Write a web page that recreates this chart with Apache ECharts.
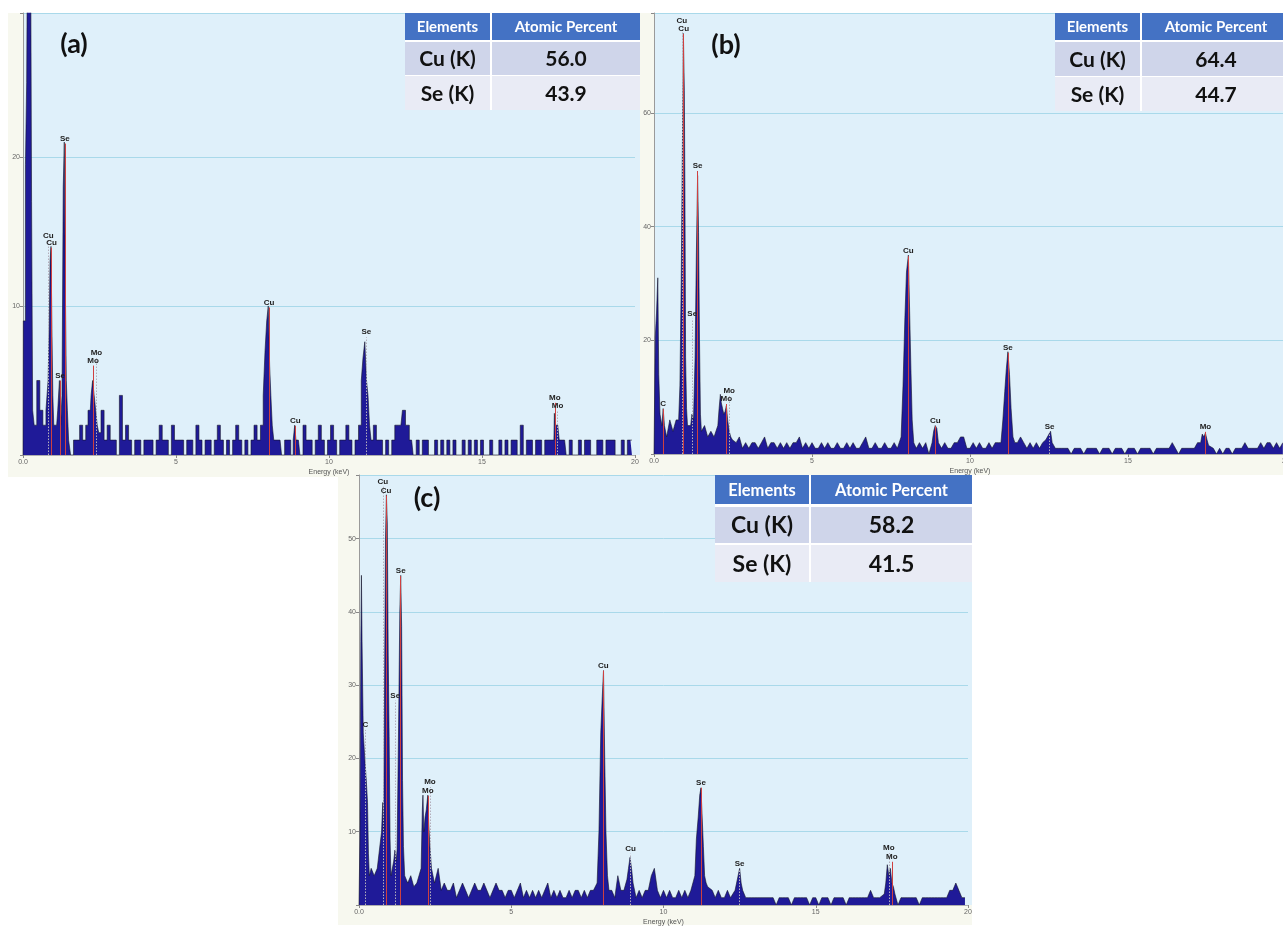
<!DOCTYPE html>
<html>
<head>
<meta charset="utf-8">
<script src="https://cdn.jsdelivr.net/npm/echarts@6/dist/echarts.min.js"></script>
<style>
html,body{margin:0;padding:0;background:#fff;}
#c{width:1283px;height:928px;}
</style>
</head>
<body>
<div id="c"></div>
<script>
// ---------- DATA ----------
const tableHeader = ['Elements', 'Atomic Percent'];
const elementNames = ['Cu (K)', 'Se (K)'];
const atomicA = ['56.0', '43.9'];
const atomicB = ['64.4', '44.7'];
const atomicC = ['58.2', '41.5'];
const panelLabels = ['(a)', '(b)', '(c)'];
const energyTicks = [0, 5, 10, 15, 20];

// background counts, one per 0.1 keV channel (0.0 ... 19.9 keV)
const bgA = [
 0,0,0,0,2,5,3,2,3,3,
 2,2,5,0,0,0,0,1,1,2,
 1,2,3,3,4,5,3,1,2,1,
 1,0,4,1,2,1,0,1,1,0,
 1,1,1,0,1,2,1,1,0,2,
 1,1,1,0,1,1,0,2,1,0,
 1,1,0,1,2,1,0,1,0,1,
 2,1,0,1,0,1,2,1,2,4,
 9,3,1,1,1,0,1,1,0,2,
 1,0,2,1,1,0,1,2,1,0,
 1,2,1,0,1,1,2,1,0,1,
 5,7,4,2,1,2,1,1,0,1,
 0,1,2,2,2,2,2,1,0,1,
 0,1,1,0,0,1,0,1,0,1,
 0,1,0,0,1,0,1,0,1,0,
 1,0,0,1,0,0,1,0,1,0,
 1,1,0,2,0,1,1,0,1,1,
 0,1,1,2,2,2,1,1,0,1,
 0,0,1,0,1,1,0,0,1,1,
 0,1,1,1,0,0,1,0,1,1
];
const bgB = [
 0,0,0,4,3,6,4,6,5,5,
 5,5,6,0,0,0,5,3,4,3,
 3,0,0,0,0,2,2,3,1,2,
 1,2,2,1,2,3,1,2,2,1,
 2,1,2,1,2,2,3,1,2,1,
 2,1,1,2,1,2,1,1,2,1,
 1,2,1,2,1,1,2,3,1,1,
 2,1,1,2,1,1,2,1,0,0,
 0,0,0,1,2,1,2,0,0,0,
 0,1,2,1,1,2,2,3,3,1,
 1,2,1,2,1,1,2,1,2,2,
 0,0,0,0,0,2,3,2,1,2,
 1,2,1,2,0,0,0,1,1,1,
 1,1,0,1,1,1,0,1,1,1,
 1,0,1,1,1,0,1,1,1,0,
 1,1,1,0,1,1,1,1,0,1,
 1,1,1,1,2,1,0,1,1,1,
 1,1,2,0,0,0,0,1,0,1,
 0,1,1,0,1,1,1,2,1,1,
 1,1,2,1,2,2,1,2,1,2
];
const bgC = [
 0,0,0,0,5,4,5,4,0,0,
 0,0,0,0,0,0,3,4,2.5,3,
 2,0,0,0,0,0,5,2,3,2,
 2,3,1,2,3,2,1,2,3,2,
 2,3,2,1,2,3,2,2,1,2,
 2,1,2,3,1,2,1,2,1,2,
 1,2,3,1,2,1,2,1,1,2,
 1,2,2,1,2,1,2,2,3,0,
 0,0,0,2,1,4,2,2,0,0,
 0,1,2,1,2,2,4,5,2,1,
 2,1,2,1,1,2,1,2,1,2,
 0,0,0,0,0,3,2,1,2,1,
 1,2,1,2,0,0,0,1,1,1,
 1,1,1,1,1,1,1,0,1,1,
 1,1,0,1,1,1,1,1,0,1,
 1,0,1,1,1,0,1,1,1,1,
 0,1,1,1,1,1,1,1,2,1,
 1,1,1,0,0,0,0,0,1,1,
 1,1,1,1,0,1,1,1,1,1,
 1,1,1,1,2,2,3,2,1,1
];

// peaks: [keV, counts]
const peaksA = [
 [[0,0],[0.02,9],[0.06,9],[0.1,19.5],[0.14,25],[0.18,40],[0.22,40],[0.26,40],[0.3,17],[0.33,3]],
 [[0.8,3],[0.84,5],[0.87,8.5],[0.9,13],[0.93,14],[0.96,8.5],[0.99,4],[1.02,2]],
 [[1.17,3],[1.21,5],[1.25,2]],
 [[1.3,4],[1.33,18],[1.37,21],[1.4,11],[1.43,5],[1.47,3],[1.51,1]],
 [[2.1,2],[2.15,3],[2.2,3],[2.25,4],[2.3,5],[2.35,4],[2.4,3],[2.45,2],[2.5,1.5]],
 [[7.82,2],[7.88,4],[7.94,7],[7.99,9],[8.04,10],[8.08,6],[8.12,4],[8.17,2],[8.22,1]],
 [[8.86,1],[8.9,2],[8.94,1]],
 [[11.03,2],[11.08,5],[11.14,6.5],[11.2,7.6],[11.25,5],[11.3,4],[11.35,2],[11.4,1]],
 [[12.35,2],[12.45,3],[12.55,2]],
 [[17.35,1],[17.38,2.8],[17.41,2],[17.45,2],[17.5,2],[17.55,1]]
];
const peaksB = [
 [[0,0],[0.04,20.6],[0.08,24.8],[0.12,31],[0.15,14],[0.19,7]],
 [[0.25,5],[0.29,8],[0.33,5]],
 [[0.78,6],[0.82,12],[0.86,30],[0.9,55],[0.93,74],[0.96,64],[0.98,45],[1.0,17],[1.03,8],[1.06,5]],
 [[1.16,5],[1.2,7],[1.25,6],[1.3,17],[1.34,35],[1.38,49],[1.41,39],[1.44,20],[1.47,7],[1.5,4]],
 [[2.02,5],[2.06,8],[2.1,10.5],[2.13,9],[2.17,8],[2.21,7],[2.25,7.5],[2.29,8.5],[2.33,6],[2.38,4],[2.43,3],[2.48,2.5]],
 [[7.82,3],[7.88,12],[7.94,24],[7.99,32],[8.05,35],[8.09,25],[8.13,15],[8.17,6],[8.22,2]],
 [[8.8,2],[8.85,4],[8.9,5],[8.95,4.5],[9.0,2]],
 [[10.98,2],[11.04,6],[11.1,11],[11.15,15],[11.2,18],[11.25,14],[11.3,8],[11.36,3],[11.42,2]],
 [[12.4,2.5],[12.5,3.5],[12.55,4],[12.6,2]],
 [[17.3,2],[17.35,3.5],[17.4,3],[17.45,3.7],[17.5,2.5],[17.55,1.5]]
];
const peaksC = [
 [[0,0],[0.03,9],[0.06,36],[0.08,45],[0.1,36],[0.14,23.5],[0.19,20],[0.24,17],[0.28,14],[0.31,7],[0.34,4]],
 [[0.74,10],[0.78,14],[0.81,10],[0.84,30],[0.87,50],[0.9,56],[0.93,52],[0.96,34],[0.99,23],[1.02,9],[1.05,4]],
 [[1.14,6],[1.18,7.5],[1.22,6],[1.25,7.5],[1.28,17.5],[1.31,28],[1.34,40],[1.37,45],[1.4,38],[1.43,17],[1.46,8],[1.5,4]],
 [[2.04,5],[2.08,13],[2.1,15],[2.13,10],[2.17,12],[2.21,13],[2.26,15],[2.29,11],[2.33,8],[2.38,5],[2.43,4],[2.48,3]],
 [[7.82,3],[7.88,10],[7.94,23.5],[7.99,28.5],[8.03,32],[8.07,20],[8.11,10],[8.16,4],[8.21,2]],
 [[8.8,3.5],[8.85,5],[8.9,6.5],[8.95,5],[9.0,3]],
 [[11.03,4],[11.08,9],[11.14,12],[11.19,15],[11.23,16],[11.27,12],[11.31,8],[11.35,4],[11.4,3],[11.45,2.5]],
 [[12.35,2],[12.4,3],[12.45,4],[12.5,5],[12.55,3],[12.6,2]],
 [[17.25,1.5],[17.3,3],[17.35,5.5],[17.4,4],[17.45,5],[17.5,3],[17.55,2.5],[17.6,1.5]]
];

// identified lines: [element, keV, marker height, dotted]
const linesA = [['Cu',0.83,14.4,1],['Cu',0.93,13.9,0],['Se',1.21,5.0,0],['Se',1.37,20.9,0],['Mo',2.40,6.5,1],['Mo',2.29,6.0,0],['Cu',8.04,9.9,0],['Cu',8.9,1.95,0],['Se',11.22,7.9,1],['Mo',17.38,3.5,0],['Mo',17.47,2.95,1]];
const linesB = [['C',0.29,7.9,0],['Cu',0.88,75.3,1],['Cu',0.94,73.9,0],['Se',1.21,23.8,1],['Se',1.38,49.8,0],['Mo',2.38,10.2,1],['Mo',2.29,8.8,0],['Cu',8.05,34.8,0],['Cu',8.9,4.9,0],['Se',11.2,17.8,0],['Se',12.52,3.9,1],['Mo',17.45,3.9,0]];
const linesC = [['C',0.21,23.9,1],['Cu',0.78,57.1,1],['Cu',0.89,55.9,0],['Se',1.19,27.9,1],['Se',1.37,44.9,0],['Mo',2.33,16.1,1],['Mo',2.26,14.9,0],['Cu',8.02,32,0],['Cu',8.92,7.0,1],['Se',11.23,16,0],['Se',12.5,4.9,1],['Mo',17.4,7.1,1],['Mo',17.5,5.9,0]];

// ---------- BUILD ----------
function buildSpectrum(bg, groups){
  const ranges = groups.map(g => [g[0][0]-0.05, g[g.length-1][0]+0.05]);
  const pts = [];
  bg.forEach((v,i) => {
    const e = Math.round(i)/10;
    if (!ranges.some(r => e >= r[0]-1e-9 && e <= r[1]+1e-9)) pts.push([e, v]);
  });
  groups.forEach(g => g.forEach(p => pts.push(p)));
  pts.sort((a,b) => a[0]-b[0]);
  return pts;
}
function buildMarks(lines){
  return lines.map(l => [
    {name:l[0], coord:[l[1],0],
     lineStyle: l[3] ? {color:'#b4aebb', type:[1.5,1.5], width:1} : {color:'#cf4040', type:'solid', width:1}},
    {coord:[l[1],l[2]]}
  ]);
}
const FONT = 'Liberation Sans, Arial, sans-serif';
const grids = [
  {left:23, top:13, width:612, height:442},
  {left:654, top:13, width:632, height:441},
  {left:359, top:475, width:609, height:430}
];
const yCfg = [{max:29.66, iv:10},{max:77.6, iv:20},{max:58.7, iv:10}];
const stepMode = ['middle', false, false];
const spectra = [buildSpectrum(bgA,peaksA), buildSpectrum(bgB,peaksB), buildSpectrum(bgC,peaksC)];
const marks = [buildMarks(linesA), buildMarks(linesB), buildMarks(linesC)];

const option = {
  animation:false,
  grid: grids.map(g => Object.assign({show:true, backgroundColor:'#dff0fa', borderWidth:0, containLabel:false, outerBoundsMode:'none'}, g)),
  xAxis: grids.map((g,i) => ({
    type:'value', gridIndex:i, min:energyTicks[0], max:energyTicks[energyTicks.length-1], interval:5,
    name:'Energy (keV)', nameLocation:'middle', nameGap:14,
    nameTextStyle:{fontSize:7, color:'#555', fontFamily:FONT},
    axisLine:{show:true, onZero:false, lineStyle:{color:'#b0b0b0', width:1}},
    axisTick:{show:true, length:3, lineStyle:{color:'#888'}},
    axisLabel:{fontSize:7, color:'#666', margin:4, fontFamily:FONT, formatter:v => v===0 ? '0.0' : String(v)},
    splitLine:{show:false}
  })),
  yAxis: grids.map((g,i) => ({
    type:'value', gridIndex:i, min:0, max:yCfg[i].max, interval:yCfg[i].iv,
    axisLine:{show:true, lineStyle:{color:'#9a9a9a', width:1}},
    axisTick:{show:true, length:3, lineStyle:{color:'#888'}},
    axisLabel:{fontSize:7, color:'#666', margin:3, fontFamily:FONT,
      formatter:v => (v>0 && Math.abs(v/yCfg[i].iv - Math.round(v/yCfg[i].iv))<1e-6) ? String(v) : ''},
    splitLine:{show:true, lineStyle:{color:'#a9d9ea', width:1}}
  })),
  series: spectra.map((d,i) => ({
    type:'line', xAxisIndex:i, yAxisIndex:i, data:d, step:stepMode[i], symbol:'none',
    lineStyle:{color:'#141428', width:0.6},
    areaStyle:{color:'#1f1a98', opacity:1},
    clip:true, z:3,
    markLine:{
      silent:true, symbol:['none','none'], animation:false,
      label:{show:true, position:'end', distance:1, formatter:p => p.name,
             fontSize:8, fontWeight:'bold', color:'#222', fontFamily:FONT},
      data:marks[i]
    }
  })),
  graphic: []
};

// panel frames (cream label strips)
const cream = '#f7f8ef';
[
  [8,13,15,464],[8,455,632,22],
  [640,13,14,462],[640,454,643,21],
  [338,473,21,452],[338,905,634,20]
].forEach(r => option.graphic.push({type:'rect', shape:{x:r[0],y:r[1],width:r[2],height:r[3]}, style:{fill:cream}, z:-1, silent:true}));
// small plot-colour strips at right edges
[[635,13,5,442],[968,475,4,430]].forEach(r => option.graphic.push({type:'rect', shape:{x:r[0],y:r[1],width:r[2],height:r[3]}, style:{fill:'#dff0fa'}, z:-1, silent:true}));

// tables
function addTable(t, values){
  const G = option.graphic;
  const z = 20;
  G.push({type:'rect', shape:{x:t.x0, y:t.r[0], width:t.x1-t.x0, height:t.r[5]-t.r[0]}, style:{fill:'#ffffff'}, z});
  const cols = [[t.x0, t.xs-1],[t.xs+1, t.x1]];
  const rows = [[t.r[0],t.r[1],'#4472c4'],[t.r[2],t.r[3],'#cfd5ea'],[t.r[4],t.r[5],'#e9ebf5']];
  rows.forEach((rw,ri) => cols.forEach((c,ci) => {
    G.push({type:'rect', shape:{x:c[0], y:rw[0], width:c[1]-c[0], height:rw[1]-rw[0]}, style:{fill:rw[2]}, z:z+1});
    let txt = ri===0 ? tableHeader[ci] : (ci===0 ? elementNames[ri-1] : values[ri-1]);
    G.push({type:'text', x:(c[0]+c[1])/2, y:(rw[0]+rw[1])/2 + 1, z:z+2,
      style:{text:txt, fill: ri===0 ? '#ffffff' : '#111111', align:'center', verticalAlign:'middle',
             font: 'bold ' + (ri===0 ? t.f1 : t.f2) + 'px Lato, "Open Sans", sans-serif'}});
  }));
}
addTable({x0:405, xs:491, x1:640, r:[13,40,42,75,76,110], f1:15, f2:21}, atomicA);
addTable({x0:1055, xs:1141, x1:1290, r:[13,40,42,76,77,111], f1:15, f2:21}, atomicB);
addTable({x0:715, xs:810, x1:972, r:[475,504,507,543,545,582], f1:16.5, f2:23}, atomicC);

// panel letters
[[74,44,panelLabels[0]],[726,45,panelLabels[1]],[427,498,panelLabels[2]]].forEach(p =>
  option.graphic.push({type:'text', x:p[0], y:p[1], z:20,
    style:{text:p[2], fill:'#111', align:'center', verticalAlign:'middle', font:'bold 27px Lato, "Open Sans", sans-serif'}}));

const chart = echarts.init(document.getElementById('c'), null, {renderer:'canvas'});
chart.setOption(option);
</script>
</body>
</html>
